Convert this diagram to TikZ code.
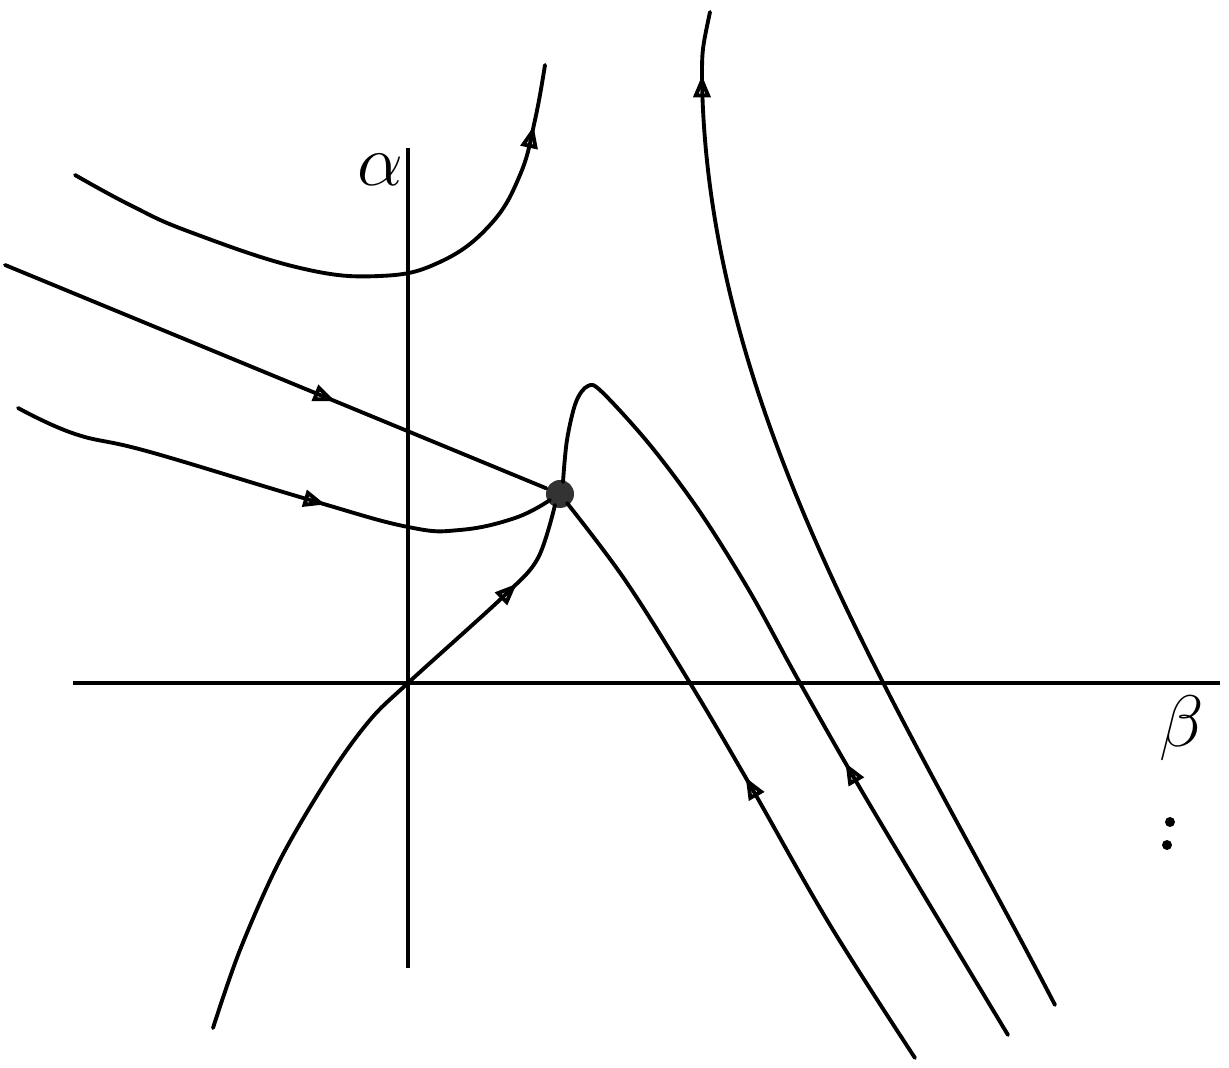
\documentclass[tikz,border=0pt]{standalone}
\usetikzlibrary{arrows.meta,decorations.markings}
\begin{document}
\begin{tikzpicture}[x=0.01cm,y=-0.01cm,
  traj/.style={line width=1.1pt,line cap=round},
  axis/.style={line width=1.1pt},
  fwd/.style={postaction={decorate,decoration={markings,mark=at position #1 with {\arrow{Triangle[open,length=0.22cm,width=0.17cm,line width=1.1pt]}}}}},
  bwd/.style={postaction={decorate,decoration={markings,mark=at position #1 with {\arrowreversed{Triangle[open,length=0.22cm,width=0.17cm,line width=1.1pt]}}}}},
  lbl/.style={font=\fontsize{21}{25}\selectfont}]
\useasboundingbox (0,0) rectangle (1229,1068);
% axes
\coordinate (xl) at (73,683);
\coordinate (xr) at (1220,683);
\coordinate (yt) at (408,148);
\coordinate (yb) at (408,968);
\coordinate (O) at (408,683);
\draw[axis] (xl) -- (xr);
\draw[axis] (yt) -- (yb);
\node[lbl] (alpha) at (380,170) {$\alpha$};
\node[lbl] (beta) at (1182,728) {$\beta$};
\fill (1170,822) circle (5);
\fill (1167,845) circle (5);
% saddle point
\node[circle,fill=black!80,minimum size=0.28cm,inner sep=0pt] (S) at (560,494) {};
% curve 1
\draw[traj,fwd=0.9] plot[smooth,tension=0.7] coordinates {(75,175) (130,205) (190,232) (300,268) (380,276) (440,262) (490,225) (520,175) (535,120) (545,65)};
% curve 2
\draw[traj,fwd=0.61] (5,265) -- (S);
% curve 3
\draw[traj,fwd=0.58] plot[smooth,tension=0.7] coordinates {(18,408) (75,434) (150,452) (310,500) (408,527) (460,530) (515,518) (550,500)};
% curve 4
\draw[traj,fwd=0.86] plot[smooth,tension=0.55] coordinates {(213,1028) (240,950) (280,860) (330,775) (370,720) (O) (505,595) (538,558) (555,505)};
% curve 5
\draw[traj,bwd=0.64] plot[smooth,tension=0.55] coordinates {(563,482) (567,440) (576,402) (588,386) (602,392) (650,445) (700,512) (750,592) (800,683) (870,805) (1008,1035)};
% curve 6
\draw[traj,bwd=0.5] plot[smooth,tension=0.6] coordinates {(567,503) (625,580) (690,683) (750,785) (830,925) (915,1058)};
% curve 7
\draw[traj,fwd=0.94] (1055,1005) .. controls (905,715) and (708,420) .. (702,80) .. controls (702,50) .. (710,12);
\end{tikzpicture}
\end{document}
